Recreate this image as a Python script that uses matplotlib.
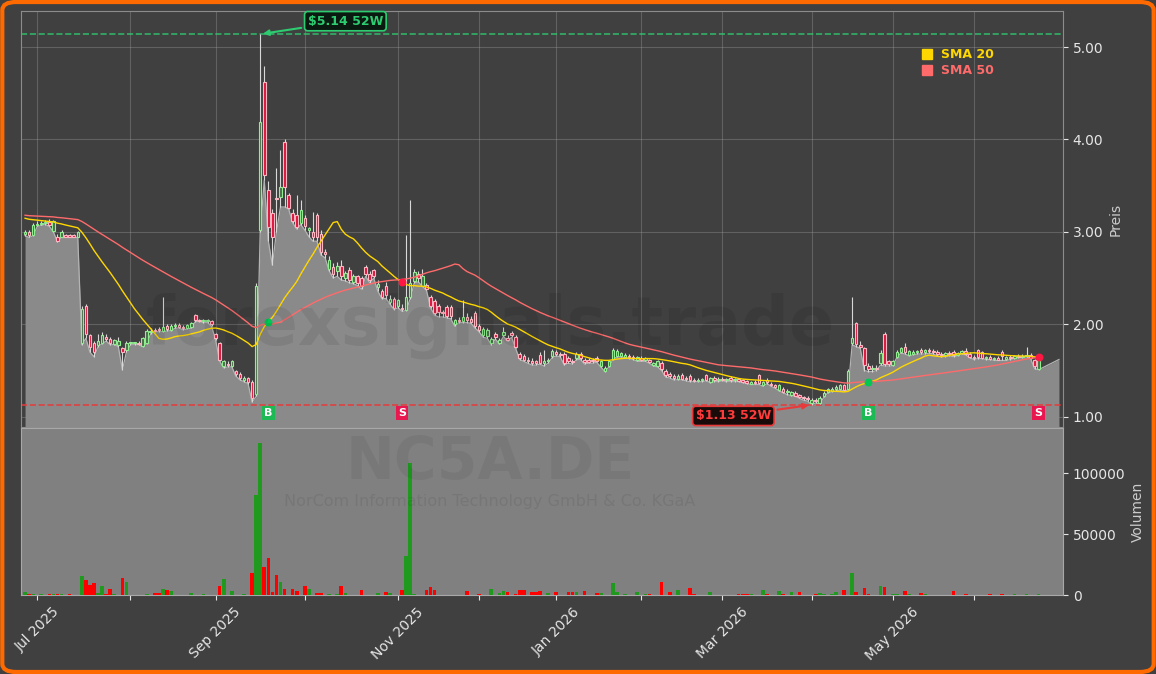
import numpy as np
import pandas as pd
import matplotlib
matplotlib.use("Agg")
import matplotlib.pyplot as plt
from matplotlib.lines import Line2D
from matplotlib.patches import FancyBboxPatch

# chart text
TICKER = "NC5A.DE"
COMPANY = "NorCom Information Technology GmbH & Co. KGaA"
WATERMARK = "forexsignals.trade"

# trading calendar (Xetra)
START = "2025-06-26"
HOLIDAYS = ["2025-12-24", "2025-12-25", "2025-12-26", "2025-12-31",
            "2026-01-01", "2026-04-03", "2026-04-06", "2026-05-01"]

# closes before the visible window, estimated from where the SMA lines start
prior_close = [3.22, 3.20, 3.24, 3.19, 3.21, 3.18, 3.22, 3.20, 3.17, 3.21,
               3.23, 3.19, 3.20, 3.18, 3.22, 3.21, 3.19, 3.20, 3.24, 3.18,
               3.20, 3.21, 3.17, 3.22, 3.19, 3.20, 3.18, 3.21, 3.20, 3.22,
               3.19, 3.18, 3.21, 3.20, 3.19, 3.20, 3.18, 3.16, 3.17, 3.18,
               3.15, 3.17, 3.18, 3.12, 3.10, 3.09, 3.11, 3.08, 3.10]

# daily candles
open_ = [2.98, 3.00, 2.97, 3.08, 3.09, 3.10, 3.11, 3.01, 2.94, 2.95,
         2.97, 2.97, 2.97, 2.95, 1.80, 2.20, 1.88, 1.80, 1.78, 1.80,
         1.86, 1.84, 1.79, 1.78, 1.74, 1.72, 1.80, 1.80, 1.80, 1.77,
         1.80, 1.92, 1.94, 1.95, 1.93, 1.98, 1.94, 1.98, 1.99, 1.97,
         1.96, 1.97, 2.10, 2.05, 2.04, 2.04, 2.04, 1.90, 1.80, 1.55,
         1.57, 1.55, 1.50, 1.46, 1.40, 1.42, 1.38, 1.25, 3.02, 4.62,
         3.45, 3.20, 3.37, 3.38, 3.97, 3.40, 3.20, 3.18, 3.10, 3.15,
         3.02, 3.00, 3.18, 2.98, 2.78, 2.60, 2.62, 2.58, 2.63, 2.50,
         2.59, 2.46, 2.52, 2.50, 2.62, 2.55, 2.59, 2.40, 2.36, 2.42,
         2.24, 2.28, 2.20, 2.18, 2.16, 2.30, 2.47, 2.55, 2.42, 2.43,
         2.30, 2.25, 2.20, 2.13, 2.19, 2.19, 2.00, 2.05, 2.04, 2.08,
         2.06, 2.12, 1.98, 1.88, 1.87, 1.80, 1.90, 1.80, 1.88, 1.85,
         1.91, 1.86, 1.68, 1.66, 1.62, 1.60, 1.60, 1.67, 1.58, 1.60,
         1.66, 1.70, 1.68, 1.68, 1.64, 1.60, 1.64, 1.68, 1.62, 1.62,
         1.62, 1.64, 1.55, 1.50, 1.55, 1.63, 1.66, 1.66, 1.65, 1.66,
         1.65, 1.62, 1.64, 1.61, 1.62, 1.56, 1.55, 1.58, 1.50, 1.46,
         1.44, 1.41, 1.45, 1.42, 1.44, 1.40, 1.39, 1.40, 1.45, 1.38,
         1.42, 1.40, 1.41, 1.40, 1.42, 1.40, 1.41, 1.40, 1.39, 1.36,
         1.38, 1.45, 1.34, 1.40, 1.36, 1.34, 1.29, 1.30, 1.27, 1.24,
         1.26, 1.24, 1.21, 1.20, 1.15, 1.18, 1.15, 1.22, 1.27, 1.28,
         1.30, 1.30, 1.34, 1.30, 1.80, 2.02, 1.78, 1.74, 1.55, 1.52,
         1.53, 1.58, 1.90, 1.60, 1.56, 1.65, 1.70, 1.75, 1.67, 1.68,
         1.70, 1.72, 1.70, 1.72, 1.71, 1.70, 1.68, 1.67, 1.69, 1.70,
         1.67, 1.69, 1.71, 1.68, 1.65, 1.72, 1.70, 1.64, 1.65, 1.63,
         1.64, 1.70, 1.63, 1.65, 1.64, 1.66, 1.65, 1.66, 1.67, 1.62,
         1.52]
high = [3.02, 3.02, 3.10, 3.12, 3.12, 3.13, 3.14, 3.13, 2.98, 3.02,
        2.98, 2.98, 2.98, 3.01, 2.20, 2.22, 1.90, 1.82, 1.90, 1.92,
        1.90, 1.86, 1.84, 1.86, 1.76, 1.82, 1.81, 1.81, 1.82, 1.86,
        1.95, 1.96, 1.96, 1.97, 2.30, 2.00, 2.00, 2.02, 2.02, 1.99,
        2.00, 2.03, 2.11, 2.06, 2.06, 2.06, 2.05, 1.91, 1.81, 1.62,
        1.60, 1.62, 1.51, 1.48, 1.44, 1.43, 1.40, 2.45, 5.14, 4.80,
        3.55, 3.25, 3.69, 3.89, 4.00, 3.42, 3.25, 3.40, 3.35, 3.18,
        3.05, 3.22, 3.20, 3.02, 2.82, 2.74, 2.66, 2.68, 2.70, 2.58,
        2.62, 2.55, 2.53, 2.52, 2.64, 2.58, 2.60, 2.48, 2.38, 2.46,
        2.32, 2.30, 2.28, 2.22, 2.97, 3.35, 2.60, 2.58, 2.60, 2.45,
        2.32, 2.27, 2.22, 2.16, 2.21, 2.21, 2.06, 2.08, 2.26, 2.12,
        2.09, 2.14, 2.00, 1.97, 1.96, 1.86, 1.92, 1.85, 1.97, 1.88,
        1.93, 1.88, 1.70, 1.68, 1.65, 1.64, 1.62, 1.70, 1.72, 1.64,
        1.73, 1.72, 1.70, 1.70, 1.66, 1.63, 1.70, 1.70, 1.64, 1.64,
        1.64, 1.66, 1.62, 1.55, 1.62, 1.74, 1.73, 1.70, 1.69, 1.68,
        1.67, 1.66, 1.66, 1.65, 1.63, 1.59, 1.61, 1.60, 1.52, 1.48,
        1.46, 1.46, 1.47, 1.44, 1.46, 1.42, 1.42, 1.42, 1.46, 1.43,
        1.44, 1.43, 1.43, 1.42, 1.44, 1.42, 1.42, 1.41, 1.40, 1.39,
        1.40, 1.46, 1.39, 1.42, 1.38, 1.36, 1.36, 1.32, 1.30, 1.28,
        1.28, 1.25, 1.23, 1.22, 1.20, 1.20, 1.22, 1.28, 1.31, 1.32,
        1.34, 1.35, 1.36, 1.52, 2.30, 2.03, 1.82, 1.76, 1.58, 1.56,
        1.56, 1.72, 1.92, 1.62, 1.62, 1.72, 1.76, 1.80, 1.72, 1.72,
        1.72, 1.74, 1.73, 1.74, 1.73, 1.72, 1.70, 1.70, 1.71, 1.72,
        1.70, 1.72, 1.74, 1.70, 1.67, 1.73, 1.71, 1.66, 1.67, 1.65,
        1.66, 1.72, 1.66, 1.67, 1.67, 1.68, 1.68, 1.76, 1.69, 1.63,
        1.64]
low = [2.96, 2.94, 2.96, 3.06, 3.07, 3.08, 3.06, 3.00, 2.89, 2.94,
       2.94, 2.94, 2.94, 2.94, 1.78, 1.85, 1.70, 1.65, 1.76, 1.79,
       1.82, 1.78, 1.78, 1.76, 1.51, 1.70, 1.78, 1.78, 1.78, 1.76,
       1.79, 1.90, 1.92, 1.92, 1.92, 1.93, 1.93, 1.96, 1.96, 1.94,
       1.95, 1.96, 2.03, 2.03, 2.02, 2.02, 1.98, 1.83, 1.60, 1.53,
       1.54, 1.54, 1.44, 1.40, 1.38, 1.36, 1.16, 1.22, 3.00, 3.56,
       2.90, 2.64, 3.00, 3.27, 3.27, 3.25, 3.10, 3.03, 3.08, 3.02,
       2.95, 2.90, 2.90, 2.75, 2.72, 2.58, 2.50, 2.52, 2.48, 2.47,
       2.45, 2.44, 2.42, 2.38, 2.52, 2.45, 2.50, 2.36, 2.28, 2.28,
       2.22, 2.16, 2.18, 2.14, 2.15, 2.28, 2.45, 2.46, 2.41, 2.37,
       2.18, 2.10, 2.08, 2.08, 2.07, 2.06, 1.98, 2.02, 2.02, 2.02,
       2.01, 1.96, 1.92, 1.86, 1.85, 1.78, 1.84, 1.79, 1.87, 1.82,
       1.86, 1.74, 1.62, 1.60, 1.58, 1.56, 1.56, 1.57, 1.55, 1.58,
       1.64, 1.66, 1.65, 1.56, 1.58, 1.57, 1.62, 1.62, 1.57, 1.58,
       1.58, 1.59, 1.54, 1.49, 1.54, 1.62, 1.65, 1.65, 1.64, 1.63,
       1.62, 1.60, 1.60, 1.60, 1.58, 1.55, 1.54, 1.50, 1.43, 1.42,
       1.40, 1.40, 1.40, 1.39, 1.38, 1.38, 1.38, 1.38, 1.39, 1.37,
       1.38, 1.38, 1.39, 1.38, 1.38, 1.38, 1.38, 1.37, 1.36, 1.35,
       1.35, 1.35, 1.33, 1.36, 1.33, 1.31, 1.28, 1.26, 1.24, 1.23,
       1.22, 1.20, 1.18, 1.17, 1.13, 1.15, 1.14, 1.21, 1.26, 1.27,
       1.28, 1.29, 1.28, 1.29, 1.78, 1.76, 1.74, 1.50, 1.49, 1.49,
       1.50, 1.56, 1.55, 1.55, 1.55, 1.64, 1.69, 1.68, 1.66, 1.67,
       1.68, 1.68, 1.68, 1.69, 1.68, 1.66, 1.65, 1.65, 1.66, 1.65,
       1.66, 1.68, 1.67, 1.64, 1.62, 1.63, 1.63, 1.62, 1.62, 1.61,
       1.61, 1.61, 1.61, 1.62, 1.63, 1.64, 1.64, 1.65, 1.63, 1.52,
       1.51]
close = [3.00, 2.97, 3.08, 3.09, 3.10, 3.11, 3.08, 3.12, 2.90, 3.00,
         2.95, 2.95, 2.95, 3.00, 2.17, 1.90, 1.75, 1.70, 1.82, 1.88,
         1.84, 1.80, 1.83, 1.82, 1.70, 1.80, 1.80, 1.80, 1.79, 1.85,
         1.93, 1.93, 1.93, 1.94, 1.97, 1.95, 1.98, 1.99, 1.97, 1.96,
         1.99, 2.01, 2.05, 2.04, 2.04, 2.04, 2.00, 1.85, 1.62, 1.60,
         1.56, 1.60, 1.46, 1.42, 1.42, 1.38, 1.20, 2.42, 4.19, 3.62,
         3.05, 2.95, 3.36, 3.49, 3.49, 3.26, 3.12, 3.05, 3.24, 3.06,
         3.04, 2.95, 2.95, 2.78, 2.76, 2.70, 2.55, 2.63, 2.52, 2.56,
         2.48, 2.52, 2.45, 2.42, 2.55, 2.48, 2.52, 2.44, 2.30, 2.32,
         2.28, 2.18, 2.26, 2.17, 2.30, 2.45, 2.57, 2.50, 2.52, 2.38,
         2.20, 2.12, 2.13, 2.12, 2.09, 2.09, 2.05, 2.04, 2.08, 2.05,
         2.03, 1.98, 1.94, 1.95, 1.94, 1.84, 1.86, 1.83, 1.92, 1.83,
         1.88, 1.76, 1.64, 1.61, 1.60, 1.58, 1.58, 1.58, 1.60, 1.62,
         1.71, 1.68, 1.67, 1.58, 1.60, 1.59, 1.68, 1.64, 1.59, 1.59,
         1.60, 1.60, 1.60, 1.53, 1.60, 1.72, 1.71, 1.69, 1.67, 1.65,
         1.64, 1.65, 1.62, 1.64, 1.59, 1.58, 1.60, 1.52, 1.45, 1.44,
         1.42, 1.44, 1.41, 1.41, 1.40, 1.39, 1.40, 1.40, 1.40, 1.42,
         1.40, 1.41, 1.40, 1.40, 1.40, 1.41, 1.39, 1.38, 1.37, 1.38,
         1.37, 1.37, 1.38, 1.38, 1.34, 1.32, 1.34, 1.27, 1.28, 1.27,
         1.23, 1.21, 1.20, 1.19, 1.18, 1.17, 1.20, 1.26, 1.30, 1.30,
         1.32, 1.34, 1.29, 1.50, 1.85, 1.79, 1.76, 1.56, 1.52, 1.53,
         1.52, 1.69, 1.57, 1.57, 1.60, 1.70, 1.74, 1.70, 1.71, 1.70,
         1.71, 1.70, 1.72, 1.71, 1.70, 1.68, 1.67, 1.69, 1.68, 1.67,
         1.69, 1.71, 1.68, 1.65, 1.64, 1.65, 1.64, 1.65, 1.63, 1.64,
         1.62, 1.66, 1.65, 1.64, 1.66, 1.65, 1.66, 1.67, 1.64, 1.55,
         1.62]
volume = [2500, 800, 600, 0, 700, 0, 600, 600, 700, 700,
          0, 700, 0, 0, 15600, 12300, 8200, 9800, 2000, 7400,
          600, 5000, 600, 0, 14000, 10700, 0, 0, 0, 0,
          600, 0, 1600, 1600, 5000, 4000, 3300, 0, 0, 0,
          0, 1500, 0, 0, 1000, 0, 0, 0, 7400, 13000,
          0, 3300, 0, 0, 800, 0, 18000, 82000, 124600, 23000,
          30000, 2500, 16400, 10700, 5000, 0, 5000, 3300, 0, 7400,
          5000, 0, 1600, 1600, 0, 700, 0, 800, 7400, 2000,
          0, 0, 0, 4000, 0, 0, 0, 1600, 0, 2500,
          1600, 0, 0, 4000, 32000, 108000, 800, 0, 0, 4000,
          6500, 4000, 0, 0, 0, 0, 0, 0, 0, 3300,
          0, 0, 800, 0, 0, 5000, 0, 1600, 3300, 2500,
          0, 800, 4500, 4500, 0, 2500, 2500, 3300, 0, 1600,
          0, 2500, 0, 0, 2500, 2500, 2500, 0, 3300, 0,
          0, 1500, 1500, 0, 0, 9800, 2500, 0, 1200, 0,
          0, 2500, 0, 1200, 1000, 0, 0, 10700, 0, 2500,
          0, 4000, 0, 0, 5700, 1000, 0, 0, 0, 2500,
          0, 0, 0, 0, 0, 0, 1000, 1000, 1000, 1200,
          0, 0, 4000, 800, 0, 0, 3300, 1000, 0, 2500,
          0, 2500, 0, 0, 0, 1200, 1500, 1000, 0, 1200,
          2500, 0, 4000, 0, 18000, 2500, 0, 5700, 1000, 0,
          0, 7400, 6500, 0, 1200, 1200, 0, 3300, 1000, 0,
          0, 2000, 1000, 0, 0, 0, 0, 0, 0, 3300,
          0, 0, 1000, 0, 0, 0, 0, 0, 1000, 0,
          0, 1000, 0, 0, 1200, 0, 0, 1200, 0, 0,
          1000]

# crossover signals (candle index)
buy_idx = [60, 208]
sell_idx = [93, 250]

# 52 week extremes
hi52_idx, hi52 = 58, 5.14
lo52_idx, lo52 = 194, 1.13

BG = "#404040"
UP_EDGE, UP_FACE = "#90ee90", "#4c6b4c"
DN_EDGE, DN_FACE = "#ffb6c1", "#dc143c"

o = np.array(open_)
h = np.array(high)
l = np.array(low)
c = np.array(close)
v = np.array(volume)
n = len(c)
x = np.arange(n)
dates = pd.bdate_range(START, periods=n + 20, freq="C", holidays=HOLIDAYS)[:n]

full = pd.Series(prior_close + close)
sma20 = full.rolling(20, min_periods=1).mean().values[-n:]
sma50 = full.rolling(50, min_periods=1).mean().values[-n:]

fig = plt.figure(figsize=(11.56, 6.74), dpi=100, facecolor=BG)
ax = fig.add_axes([0.01817, 0.36647, 0.90138, 0.61721])
axv = fig.add_axes([0.01817, 0.11721, 0.90138, 0.24777], sharex=ax)
ax.set_facecolor(BG)
axv.set_facecolor("#808080")

ymin, ymax = 0.89, 5.39

# price area (lows), extended a few days past the last candle
xf = np.append(x, n + 4)
lf = np.append(l, c[-1])
ax.fill_between(xf, lf, ymin, color="#8a8a8a", lw=0, zorder=1)
ax.plot(xf, lf, color="#b4b4b4", lw=0.9, zorder=2)

# candles
up = c >= o
ax.vlines(x, l, h, color="#d8d8d8", lw=0.8, zorder=3)
body = np.maximum(np.abs(c - o), 0.008)
ax.bar(x[up], body[up], bottom=np.minimum(o, c)[up], width=0.62,
       color=UP_FACE, edgecolor=UP_EDGE, linewidth=0.8, zorder=4)
ax.bar(x[~up], body[~up], bottom=np.minimum(o, c)[~up], width=0.62,
       color=DN_FACE, edgecolor=DN_EDGE, linewidth=0.8, zorder=4)

ax.plot(x, sma20, color="#ffd700", lw=1.0, zorder=5)
ax.plot(x, sma50, color="#ff6b6b", lw=1.0, zorder=5)

# 52W lines and labels
ax.axhline(hi52, color="#2ecc71", ls="--", lw=1.2, alpha=0.8, zorder=2)
ax.axhline(lo52, color="#e83a3a", ls="--", lw=1.2, alpha=0.9, zorder=2)
ax.annotate(r"\$%.2f 52W" % hi52, xy=(hi52_idx, hi52), xytext=(79, 5.28),
            ha="center", va="center", fontsize=9, fontweight="bold", color="#2ecc71",
            bbox=dict(boxstyle="round,pad=0.25", fc="#0b1a10", ec="#2ecc71", lw=1.2),
            arrowprops=dict(arrowstyle="-|>", color="#2ecc71", lw=1.5, mutation_scale=8),
            zorder=8)
ax.annotate(r"\$%.2f 52W" % lo52, xy=(lo52_idx, lo52), xytext=(174.7, 1.01),
            ha="center", va="center", fontsize=9, fontweight="bold", color="#ff3b3b",
            bbox=dict(boxstyle="round,pad=0.25", fc="#1a0b0b", ec="#e83a3a", lw=1.2),
            arrowprops=dict(arrowstyle="-|>", color="#e83a3a", lw=1.5, mutation_scale=8),
            zorder=8)

# crossover markers
for i in buy_idx:
    ax.scatter([i], [sma20[i]], s=22, color="#00c853", zorder=7)
    ax.text(i, 1.04, "B", ha="center", va="center", fontsize=8, fontweight="bold",
            color="white", zorder=8,
            bbox=dict(boxstyle="square,pad=0.2", fc="#1db954", ec="none"))
for i in sell_idx:
    ax.scatter([i], [sma20[i]], s=22, color="#ff1744", zorder=7)
    ax.text(i, 1.04, "S", ha="center", va="center", fontsize=8, fontweight="bold",
            color="white", zorder=8,
            bbox=dict(boxstyle="square,pad=0.2", fc="#e8174f", ec="none"))

handles = [Line2D([], [], marker="s", ls="none", color="#ffd700", markersize=7),
           Line2D([], [], marker="s", ls="none", color="#ff6b6b", markersize=7)]
leg = ax.legend(handles, ["SMA 20", "SMA 50"], loc="upper left",
                bbox_to_anchor=(0.853, 0.922), frameon=False, handletextpad=0.1,
                labelspacing=0.2, borderaxespad=0, prop={"weight": "bold", "size": 9})
for t, col in zip(leg.get_texts(), ["#ffd700", "#ff6b6b"]):
    t.set_color(col)

ax.set_ylim(ymin, ymax)
ax.set_xlim(-1, n + 5)
ax.set_yticks([1, 2, 3, 4, 5])
ax.yaxis.set_major_formatter(matplotlib.ticker.FormatStrFormatter("%.2f"))
ax.yaxis.tick_right()
ax.yaxis.set_label_position("right")
ax.set_ylabel("Preis", color="#cccccc", fontsize=10)
ax.tick_params(axis="y", colors="#e6e6e6", labelsize=10)
ax.tick_params(axis="x", bottom=False, labelbottom=False)
ax.grid(True, color="#a0a0a0", alpha=0.35, lw=0.8)
ax.set_axisbelow(True)
for s in ax.spines.values():
    s.set_color("#8c8c8c")

# volume
vcol = np.where(up, "#1f9a1f", "#ff0000")
axv.bar(x, v, width=0.9, color=vcol, zorder=3)
axv.set_ylim(0, v.max() * 1.1)
axv.set_yticks([0, 50000, 100000])
axv.yaxis.tick_right()
axv.yaxis.set_label_position("right")
axv.set_ylabel("Volumen", color="#cccccc", fontsize=10)
axv.tick_params(axis="y", colors="#e6e6e6", labelsize=10)
for s in axv.spines.values():
    s.set_color("#a8a8a8")

# month ticks, labels every other month
tick_idx = [i for i in range(1, n) if dates[i].month != dates[i - 1].month]
tick_lab = [dates[i].strftime("%b %Y") if dates[i].month % 2 == 1 else "" for i in tick_idx]
axv.set_xticks(tick_idx)
axv.set_xticklabels(tick_lab, rotation=45, ha="center")
axv.tick_params(axis="x", colors="#e6e6e6", labelsize=10)

# watermarks
fig.text(0.424, 1 - 326 / 674, WATERMARK, ha="center", va="center", fontsize=48,
         fontweight="bold", color="black", alpha=0.08, zorder=10)
fig.text(0.424, 1 - 479 / 674, TICKER, ha="center", va="baseline", fontsize=42,
         fontweight="bold", color="black", alpha=0.055, zorder=10)
fig.text(0.424, 1 - 494 / 674, COMPANY, ha="center", va="top", fontsize=11.5,
         color="black", alpha=0.07, zorder=10)

# orange frame
fig.patches.append(FancyBboxPatch((0.002, 0.003), 0.996, 0.994,
                                  boxstyle="round,pad=0,rounding_size=0.012",
                                  transform=fig.transFigure, fill=False,
                                  ec="#ff6a00", lw=3))

fig.savefig("out.png", dpi=100, facecolor=BG)
